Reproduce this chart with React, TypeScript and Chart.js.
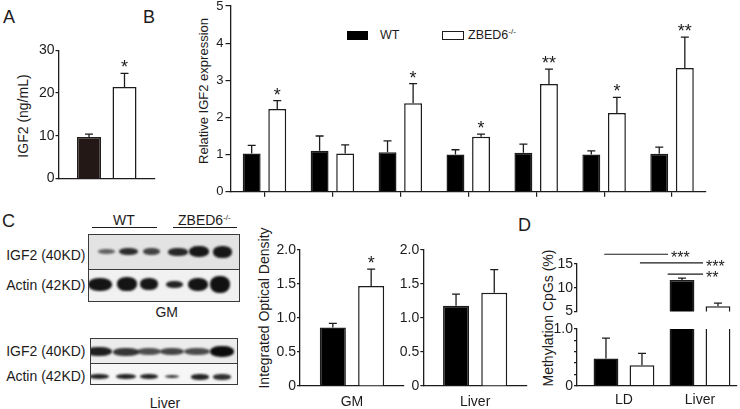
import React, { useEffect, useRef } from 'react';
import { Chart, registerables } from 'chart.js';

Chart.register(...registerables);

const FONT = '"Liberation Sans", Arial, Helvetica, sans-serif';
const INK = '#1d1b1b';
const WT_FILL_A = '#231815';
const WT_FILL = '#000000';
const KO_FILL = '#ffffff';

// ---------- Panel A : serum IGF2 ----------
const aCategories = ['Serum'];
const aWT = [9.7];
const aWTErr = [0.7];
const aKO = [21.4];
const aKOErr = [3.2];
const aKOStars = ['*'];
const aTicks = [0, 10, 20, 30];

// ---------- Panel B : relative IGF2 expression ----------
const bTissues = ['Tissue 1', 'Tissue 2', 'Tissue 3', 'Tissue 4', 'Tissue 5', 'Tissue 6', 'Tissue 7'];
const bWT = [1.03, 1.1, 1.06, 1.0, 1.05, 1.0, 1.02];
const bWTErr = [0.22, 0.4, 0.31, 0.13, 0.23, 0.1, 0.18];
const bKO = [2.23, 1.03, 2.38, 1.48, 2.9, 2.12, 3.33];
const bKOErr = [0.22, 0.23, 0.53, 0.07, 0.4, 0.42, 0.83];
const bKOStars = ['*', '', '*', '*', '**', '*', '**'];
const bTicks = [0, 1, 2, 3, 4, 5];

// ---------- Panel C : integrated optical density ----------
const cGMCategories = ['GM'];
const cGMWT = [0.86];
const cGMWTErr = [0.06];
const cGMKO = [1.47];
const cGMKOErr = [0.25];
const cGMKOStars = ['*'];
const cLiverCategories = ['Liver'];
const cLiverWT = [1.18];
const cLiverWTErr = [0.17];
const cLiverKO = [1.37];
const cLiverKOErr = [0.34];
const cTicks = [0, 0.5, 1, 1.5, 2];

// ---------- Panel D : methylation CpGs ----------
const dCategories = ['LD', 'Liver'];
const dWT = [0.48, 11.6];
const dWTErr = [0.36, 0.4];
const dKO = [0.36, 6.07];
const dKOErr = [0.21, 0.66];
const dUpperTicks = [5, 10, 15];
const dLowerTicks = [0, 0.2, 0.4, 0.6, 0.8, 1];
const dSignificance = [
  { from: -0.26, to: 0.58, level: 17.06, label: '***' },
  { from: 0.21, to: 1.04, level: 15.23, label: '***' },
  { from: 0.575, to: 1.04, level: 12.88, label: '**' },
];

const legendNames = ['WT', 'ZBED6'];

type Series = { data: number[]; err: number[]; stars?: string[]; fill: string };
type Spec = {
  canvas: { left: number; top: number; width: number; height: number };
  area: { left: number; right: number; top: number; bottom: number };
  categories: string[];
  linearX?: { min: number; max: number };
  series: Series[];
  yTicks: number[];
  yFormat: (v: number) => string;
  yFont: number;
  yTickLen: number;
  yPad: number;
  xShow: boolean;
  xLabels: boolean;
  xTickMarks: boolean;
  xLabelPad?: number;
  catPct: number;
  barPct: number;
  sig?: { from: number; to: number; level: number; label: string }[];
};

const errorBarPlugin = {
  id: 'errorBars',
  afterDatasetsDraw(chart: any) {
    const ctx = chart.ctx;
    const a = chart.chartArea;
    chart.data.datasets.forEach((ds: any, di: number) => {
      const meta = chart.getDatasetMeta(di);
      const ys = chart.scales[meta.yAxisID];
      meta.data.forEach((bar: any, i: number) => {
        const v = meta.controller.getParsed(i).y;
        const e = ds.err ? ds.err[i] : 0;
        const y0 = ys.getPixelForValue(v);
        const y1 = ys.getPixelForValue(v + (e || 0));
        if (e) {
          ctx.save();
          ctx.beginPath();
          ctx.rect(a.left - 10, a.top - 1, a.right - a.left + 20, a.bottom - a.top + 1);
          ctx.clip();
          ctx.strokeStyle = INK;
          ctx.lineWidth = 1.3;
          ctx.beginPath();
          ctx.moveTo(bar.x, y0);
          ctx.lineTo(bar.x, y1);
          ctx.moveTo(bar.x - 4, y1);
          ctx.lineTo(bar.x + 4, y1);
          ctx.stroke();
          ctx.restore();
        }
        const st = ds.stars ? ds.stars[i] : '';
        if (st) {
          ctx.save();
          ctx.fillStyle = INK;
          ctx.font = `18px ${FONT}`;
          ctx.textAlign = 'center';
          ctx.textBaseline = 'alphabetic';
          ctx.fillText(st, bar.x, y1);
          ctx.restore();
        }
      });
    });
  },
};

function makeSigPlugin(lines: { from: number; to: number; level: number; label: string }[]) {
  return {
    id: 'sigLines',
    afterDraw(chart: any) {
      if (!lines.length) return;
      const ctx = chart.ctx;
      const xs = chart.scales.x;
      const ys = chart.scales.y;
      ctx.save();
      ctx.strokeStyle = INK;
      ctx.fillStyle = INK;
      ctx.lineWidth = 1.2;
      ctx.font = `16px ${FONT}`;
      ctx.textAlign = 'left';
      ctx.textBaseline = 'alphabetic';
      lines.forEach((l) => {
        const x0 = xs.getPixelForValue(l.from);
        const x1 = xs.getPixelForValue(l.to);
        const y = ys.getPixelForValue(l.level);
        ctx.beginPath();
        ctx.moveTo(x0, y);
        ctx.lineTo(x1, y);
        ctx.stroke();
        ctx.fillText(l.label, x1 + 3, y + 9);
      });
      ctx.restore();
    },
  };
}

function buildConfig(s: Spec): any {
  const yw = s.area.left - s.canvas.left;
  const padRight = s.canvas.left + s.canvas.width - s.area.right;
  const padTop = s.area.top - s.canvas.top;
  const below = s.canvas.top + s.canvas.height - s.area.bottom;
  const xTicks = {
    display: s.xLabels,
    font: { family: FONT, size: 14 },
    color: INK,
    padding: s.xLabelPad ?? 0,
    maxRotation: 0,
    autoSkip: false,
  };
  const xCommon: any = {
    display: s.xShow,
    grid: {
      display: s.xTickMarks,
      drawOnChartArea: false,
      drawTicks: s.xTickMarks,
      tickLength: 5,
      color: INK,
      lineWidth: 1.2,
      offset: false,
    },
    border: { display: true, color: INK, width: 1.3 },
    ticks: xTicks,
    afterFit: (sc: any) => {
      sc.height = below;
      sc.paddingLeft = 0;
      sc.paddingRight = 0;
    },
  };
  const x = s.linearX
    ? {
        ...xCommon,
        type: 'linear',
        offset: false,
        min: s.linearX.min,
        max: s.linearX.max,
        afterBuildTicks: (sc: any) => {
          sc.ticks = s.categories.map((_, i) => ({ value: i }));
        },
        ticks: { ...xTicks, callback: (v: number) => s.categories[Math.round(v)] ?? '' },
      }
    : { ...xCommon, type: 'category', offset: true };
  const y = {
    type: 'linear',
    min: s.yTicks[0],
    max: s.yTicks[s.yTicks.length - 1],
    afterBuildTicks: (sc: any) => {
      sc.ticks = s.yTicks.map((v) => ({ value: v }));
    },
    grid: {
      display: true,
      drawOnChartArea: false,
      drawTicks: true,
      tickLength: s.yTickLen,
      color: INK,
      lineWidth: 1.2,
    },
    border: { display: true, color: INK, width: 1.3 },
    ticks: {
      font: { family: FONT, size: s.yFont },
      color: INK,
      padding: s.yPad,
      autoSkip: false,
      callback: (v: number) => s.yFormat(v),
    },
    afterFit: (sc: any) => {
      sc.width = yw;
      sc.paddingTop = 0;
      sc.paddingBottom = 0;
    },
  };
  return {
    type: 'bar',
    data: {
      labels: s.linearX ? undefined : s.categories,
      datasets: s.series.map((se) => ({
        data: s.linearX ? se.data.map((v, i) => ({ x: i, y: v })) : se.data,
        backgroundColor: se.fill,
        borderColor: INK,
        borderWidth: 1.5,
        borderSkipped: 'start',
        categoryPercentage: s.catPct,
        barPercentage: s.barPct,
        clip: 0,
        err: se.err,
        stars: se.stars,
      })),
    },
    options: {
      responsive: false,
      maintainAspectRatio: false,
      animation: false,
      events: [],
      layout: { padding: { left: 0, right: padRight, top: padTop, bottom: s.xShow ? 0 : below } },
      plugins: { legend: { display: false }, tooltip: { enabled: false }, title: { display: false } },
      scales: { x, y },
    },
    plugins: [errorBarPlugin, makeSigPlugin(s.sig ?? [])],
  };
}

function ChartBox({ spec }: { spec: Spec }) {
  const ref = useRef<HTMLCanvasElement>(null);
  useEffect(() => {
    const chart = new Chart(ref.current as HTMLCanvasElement, buildConfig(spec));
    return () => chart.destroy();
  }, []);
  const c = spec.canvas;
  return (
    <canvas
      ref={ref}
      width={c.width}
      height={c.height}
      style={{ position: 'absolute', left: c.left, top: c.top, width: c.width, height: c.height }}
    />
  );
}

const fmt1 = (v: number) => (v === 0 ? '0' : v.toFixed(1));

const specA: Spec = {
  canvas: { left: 20, top: 40, width: 140, height: 150 },
  area: { left: 58.5, right: 155, top: 50.3, bottom: 178.5 },
  categories: aCategories,
  series: [
    { data: aWT, err: aWTErr, fill: WT_FILL_A },
    { data: aKO, err: aKOErr, stars: aKOStars, fill: KO_FILL },
  ],
  yTicks: aTicks,
  yFormat: (v) => String(v),
  yFont: 14,
  yTickLen: 3,
  yPad: 1,
  xShow: true,
  xLabels: false,
  xTickMarks: false,
  catPct: 0.736,
  barPct: 0.676,
};

const specB: Spec = {
  canvas: { left: 195, top: 0, width: 520, height: 200 },
  area: { left: 230.5, right: 706, top: 6, bottom: 191.7 },
  categories: bTissues,
  series: [
    { data: bWT, err: bWTErr, fill: WT_FILL },
    { data: bKO, err: bKOErr, stars: bKOStars, fill: KO_FILL },
  ],
  yTicks: bTicks,
  yFormat: (v) => String(v),
  yFont: 13,
  yTickLen: 5,
  yPad: 2,
  xShow: true,
  xLabels: false,
  xTickMarks: true,
  catPct: 0.753,
  barPct: 0.7,
};

const specCGM: Spec = {
  canvas: { left: 270, top: 240, width: 140, height: 169 },
  area: { left: 300, right: 404, top: 250, bottom: 386 },
  categories: cGMCategories,
  series: [
    { data: cGMWT, err: cGMWTErr, fill: WT_FILL },
    { data: cGMKO, err: cGMKOErr, stars: cGMKOStars, fill: KO_FILL },
  ],
  yTicks: cTicks,
  yFormat: fmt1,
  yFont: 14,
  yTickLen: 3,
  yPad: 1,
  xShow: true,
  xLabels: true,
  xTickMarks: false,
  xLabelPad: 7.6,
  catPct: 0.737,
  barPct: 0.68,
};

const specCLiver: Spec = {
  ...specCGM,
  canvas: { left: 393, top: 240, width: 140, height: 169 },
  area: { left: 423.3, right: 527, top: 250, bottom: 386 },
  categories: cLiverCategories,
  series: [
    { data: cLiverWT, err: cLiverWTErr, fill: WT_FILL },
    { data: cLiverKO, err: cLiverKOErr, fill: KO_FILL },
  ],
};

const dSeries: Series[] = [
  { data: dWT, err: dWTErr, fill: WT_FILL },
  { data: dKO, err: dKOErr, fill: KO_FILL },
];

const specDUpper: Spec = {
  canvas: { left: 545, top: 240, width: 195, height: 90 },
  area: { left: 577, right: 737, top: 264, bottom: 320.7 },
  categories: dCategories,
  linearX: { min: -0.618, max: 1.487 },
  series: dSeries,
  yTicks: dUpperTicks,
  yFormat: (v) => String(v),
  yFont: 14,
  yTickLen: 3,
  yPad: 1,
  xShow: false,
  xLabels: false,
  xTickMarks: false,
  catPct: 0.947,
  barPct: 0.69,
  sig: dSignificance,
};

const specDLower: Spec = {
  ...specDUpper,
  canvas: { left: 545, top: 322, width: 195, height: 87 },
  area: { left: 577, right: 737, top: 329, bottom: 385.7 },
  yTicks: dLowerTicks,
  yFormat: (v) => (v === 0 ? '0' : Math.abs(v - 1) < 1e-9 ? '1.0' : ''),
  xShow: true,
  xLabels: true,
  xLabelPad: 5.9,
  sig: [],
};

function Txt({
  x,
  y,
  size = 14,
  anchor = 'center',
  rotate = false,
  children,
}: {
  x: number;
  y: number;
  size?: number;
  anchor?: 'left' | 'center' | 'right';
  rotate?: boolean;
  children: React.ReactNode;
}) {
  const tx = anchor === 'center' ? '-50%' : anchor === 'right' ? '-100%' : '0';
  return (
    <div
      style={{
        position: 'absolute',
        left: x,
        top: y,
        fontSize: size,
        lineHeight: 1,
        whiteSpace: 'nowrap',
        transform: `translate(${tx}, -50%)${rotate ? ' rotate(-90deg)' : ''}`,
      }}
    >
      {children}
    </div>
  );
}

type Band = { cx: number; w: number; h: number; a: number };
type BlotRow = { cy: number; bands: Band[] };

function Blot({
  left,
  top,
  width,
  height,
  split,
  bgTop,
  bgBottom,
  rows,
}: {
  left: number;
  top: number;
  width: number;
  height: number;
  split: number;
  bgTop: string;
  bgBottom: string;
  rows: BlotRow[];
}) {
  return (
    <div
      style={{
        position: 'absolute',
        left,
        top,
        width,
        height,
        border: '1px solid #3a3a3a',
        boxSizing: 'border-box',
        overflow: 'hidden',
        background: `linear-gradient(to bottom, ${bgTop} 0, ${bgTop} ${split}px, ${bgBottom} ${split}px)`,
      }}
    >
      {rows.map((r, ri) =>
        r.bands.map((b, bi) => (
          <div
            key={`${ri}-${bi}`}
            style={{
              position: 'absolute',
              left: b.cx - b.w / 2,
              top: r.cy - b.h / 2,
              width: b.w,
              height: b.h,
              borderRadius: '45%',
              background: `rgba(12,12,12,${b.a})`,
              filter: 'blur(1px)',
            }}
          />
        ))
      )}
      <div style={{ position: 'absolute', left: 0, top: split - 1, width: '100%', height: 1, background: '#3a3a3a' }} />
    </div>
  );
}

const gmRows: BlotRow[] = [
  {
    cy: 16.7,
    bands: [
      { cx: 17, w: 17, h: 5, a: 0.6 },
      { cx: 39.5, w: 19, h: 7, a: 0.85 },
      { cx: 62, w: 17, h: 7, a: 0.75 },
      { cx: 88.7, w: 20, h: 8, a: 0.88 },
      { cx: 110, w: 20, h: 11, a: 0.95 },
      { cx: 133, w: 19, h: 12, a: 0.95 },
    ],
  },
  {
    cy: 49,
    bands: [
      { cx: 11, w: 24, h: 13, a: 0.97 },
      { cx: 37.5, w: 20, h: 14, a: 0.97 },
      { cx: 60, w: 18, h: 12, a: 0.95 },
      { cx: 85.5, w: 17, h: 7, a: 0.9 },
      { cx: 109, w: 20, h: 13, a: 0.97 },
      { cx: 131, w: 20, h: 17, a: 0.98 },
    ],
  },
];

const liverRows: BlotRow[] = [
  {
    cy: 12.7,
    bands: [
      { cx: 8, w: 26, h: 9, a: 0.92 },
      { cx: 35, w: 26, h: 8, a: 0.82 },
      { cx: 58, w: 24, h: 7, a: 0.7 },
      { cx: 81, w: 24, h: 7, a: 0.75 },
      { cx: 106, w: 26, h: 7, a: 0.72 },
      { cx: 131, w: 24, h: 11, a: 1 },
    ],
  },
  {
    cy: 37.7,
    bands: [
      { cx: 8, w: 20, h: 5, a: 0.9 },
      { cx: 35, w: 20, h: 5, a: 0.9 },
      { cx: 58, w: 18, h: 5, a: 0.9 },
      { cx: 80.5, w: 14, h: 3.5, a: 0.8 },
      { cx: 109, w: 18, h: 6, a: 0.9 },
      { cx: 131, w: 18, h: 6, a: 0.85 },
    ],
  },
];

export default function App() {
  const sup = (
    <span style={{ fontSize: 8, position: 'relative', top: -5 }}>-/-</span>
  );
  return (
    <div
      style={{
        position: 'fixed',
        left: 0,
        top: 0,
        width: 740,
        height: 409,
        background: '#ffffff',
        color: INK,
        fontFamily: FONT,
        overflow: 'hidden',
      }}
    >
      {/* panel letters */}
      <Txt x={3} y={16.5} size={18} anchor="left">A</Txt>
      <Txt x={143} y={16.5} size={18} anchor="left">B</Txt>
      <Txt x={2} y={221} size={18} anchor="left">C</Txt>
      <Txt x={518} y={225} size={18} anchor="left">D</Txt>

      {/* axis titles */}
      <Txt x={23.3} y={116} size={14} rotate>IGF2 (ng/mL)</Txt>
      <Txt x={203.3} y={90.7} size={13} rotate>Relative IGF2 expression</Txt>
      <Txt x={264} y={308} size={14} rotate>Integrated Optical Density</Txt>
      <Txt x={548.3} y={318} size={14} rotate>Methylation CpGs (%)</Txt>

      {/* legend of panel B */}
      <div style={{ position: 'absolute', left: 347, top: 31, width: 21, height: 8.5, background: WT_FILL }} />
      <Txt x={380} y={35.2} size={12.5} anchor="left">{legendNames[0]}</Txt>
      <div
        style={{
          position: 'absolute',
          left: 442,
          top: 31,
          width: 22,
          height: 8.5,
          background: KO_FILL,
          border: `1.3px solid ${INK}`,
          boxSizing: 'border-box',
        }}
      />
      <Txt x={468} y={35.2} size={12.5} anchor="left">
        {legendNames[1]}
        {sup}
      </Txt>

      {/* western blots */}
      <Txt x={124} y={220} size={14}>WT</Txt>
      <div style={{ position: 'absolute', left: 91.7, top: 227, width: 65, height: 1.3, background: INK }} />
      <Txt x={178} y={220} size={14} anchor="left">
        ZBED6{sup}
      </Txt>
      <div style={{ position: 'absolute', left: 173, top: 227, width: 63.7, height: 1.3, background: INK }} />

      <Txt x={85.5} y={255} size={14} anchor="right">IGF2 (40KD)</Txt>
      <Txt x={85.5} y={285} size={14} anchor="right">Actin (42KD)</Txt>
      <Blot left={88} top={234} width={151.5} height={68} split={34.5} bgTop="#e3e3e3" bgBottom="#f1f1f1" rows={gmRows} />
      <Txt x={166.7} y={312} size={14}>GM</Txt>

      <Txt x={85.5} y={350.7} size={14} anchor="right">IGF2 (40KD)</Txt>
      <Txt x={85.5} y={375.7} size={14} anchor="right">Actin (42KD)</Txt>
      <Blot left={90} top={338} width={148} height={47} split={24.5} bgTop="#ececec" bgBottom="#f6f6f6" rows={liverRows} />
      <Txt x={165} y={403} size={14}>Liver</Txt>

      {/* charts */}
      <ChartBox spec={specA} />
      <ChartBox spec={specB} />
      <ChartBox spec={specCGM} />
      <ChartBox spec={specCLiver} />
      <ChartBox spec={specDUpper} />
      <ChartBox spec={specDLower} />
    </div>
  );
}
